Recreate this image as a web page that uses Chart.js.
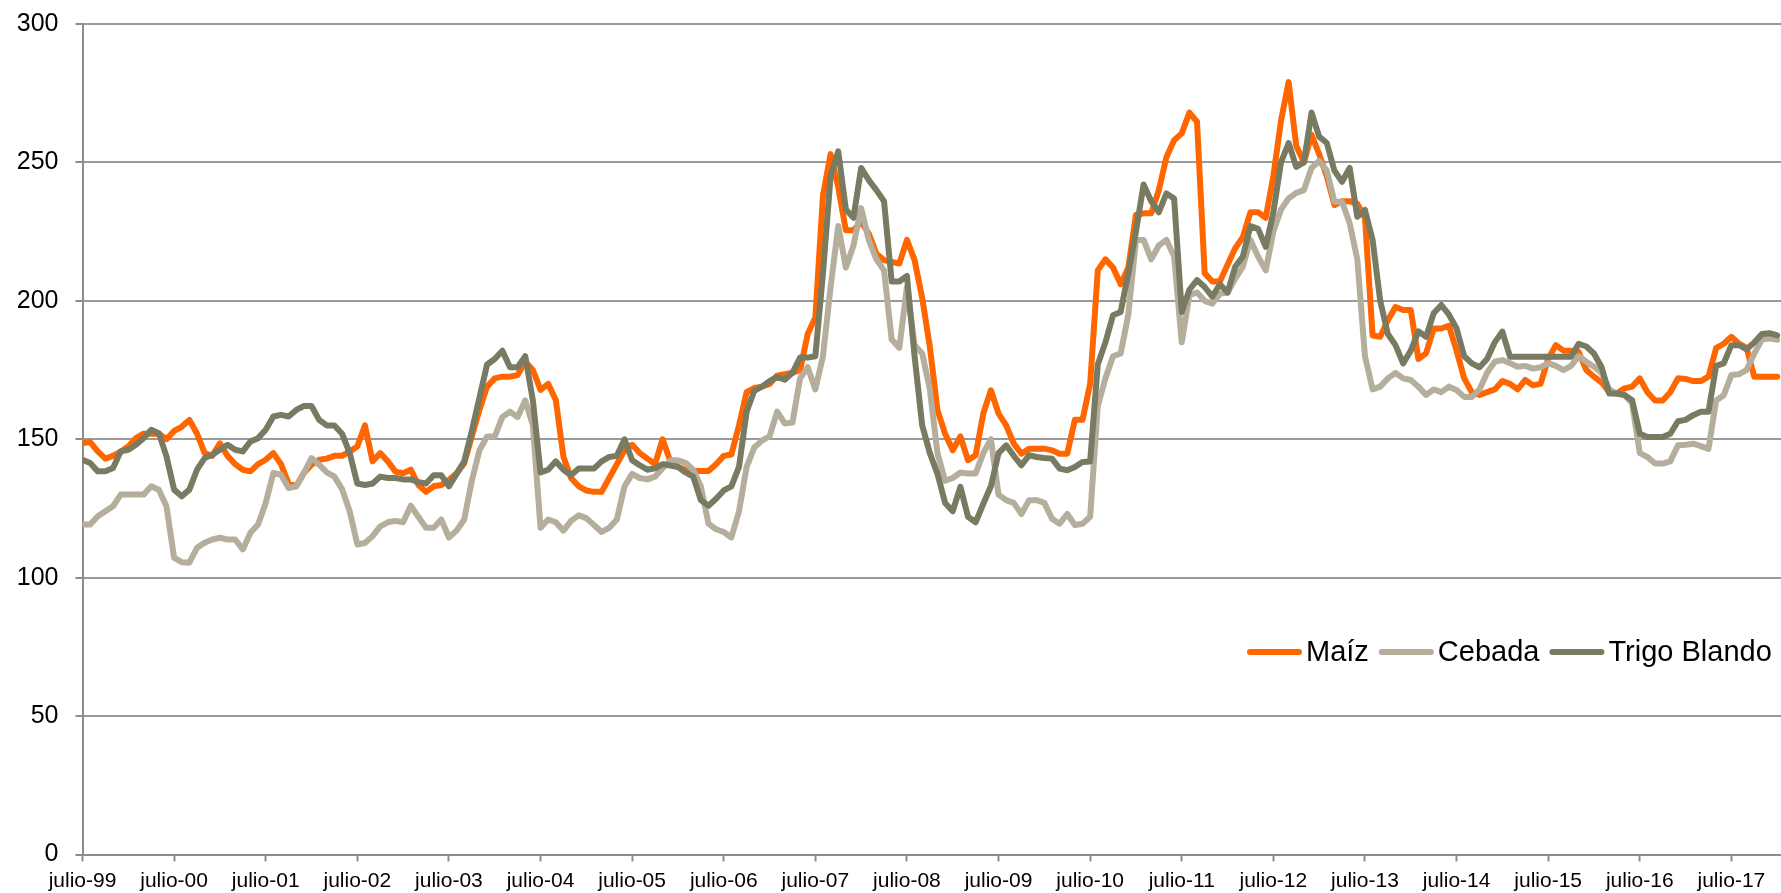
<!DOCTYPE html>
<html lang="es">
<head>
<meta charset="utf-8">
<title>Maíz, Cebada, Trigo Blando</title>
<script src="https://cdn.jsdelivr.net/npm/chart.js@4.4.1/dist/chart.umd.min.js"></script>
<style>
  html, body { margin: 0; padding: 0; background: #fff; }
  #wrap { width: 1781px; height: 893px; }
</style>
</head>
<body>
<div id="wrap"><canvas id="chart" width="1781" height="893"></canvas></div>
<script>
// one value per month, first value = julio-99
const seriesNames = ['Maíz', 'Cebada', 'Trigo Blando'];

const maiz = [
  148.6, 149, 145.6, 143, 144, 145.5, 147.4, 150.4, 152, 152, 152, 150,
  153, 154.5, 157, 152, 145, 144, 148.5, 144, 141, 139, 138.4, 141,
  142.6, 145, 141, 134, 133, 137.8, 140.8, 142.6, 143, 144, 144, 145.6,
  147.4, 155, 142, 145, 142, 138.3, 137.7, 139, 133.5, 131, 133, 133.5,
  135.3, 137.7, 141.3, 151, 160.6, 169, 172, 172.6, 172.6, 173.2, 178, 175,
  167.8, 170, 164.2, 143.7, 136, 133, 131.5, 131, 131, 136, 141, 146,
  148, 145, 143, 141, 150, 142, 140, 139, 138.5, 138.5, 138.5, 141,
  144, 144.5, 155, 167, 168.5, 169, 170, 173, 173.5, 174, 175, 188,
  194, 238, 253, 241, 225.5, 225.5, 228.5, 224.3, 217, 214.7, 214, 213.5,
  222, 214.7, 201, 183.4, 160.5, 152, 146, 151, 142.4, 144.2, 159.3, 167.7,
  159.3, 155, 148.4, 144.8, 146.6, 146.6, 146.6, 146, 144.8, 144.8, 157, 157,
  170, 211, 215, 212, 206, 212, 231, 231.6, 231.6, 240, 252, 258,
  260.5, 268, 264.7, 210, 207, 207, 213, 219, 223, 232, 232, 230,
  245, 265, 279, 256, 250, 260, 253, 245, 234.6, 236, 236, 235,
  230, 187.5, 187, 193, 197.8, 196.7, 196.7, 179, 181, 190, 190, 191,
  182, 172, 167, 166, 167, 168, 171, 170, 168, 171.4, 169.5, 170,
  179, 184, 182, 182, 181.5, 175, 172.6, 170.5, 167, 166.5, 168.4, 169,
  172, 167, 164, 164, 167, 172, 171.8, 171, 171, 172.6, 182.9, 184.5,
  187, 184.5, 183, 172.6, 172.6, 172.6, 172.6
];

const cebada = [
  119.2, 119.2, 122.2, 124, 125.8, 130, 130, 130, 130, 133, 131.8, 125.8,
  107.2, 105.6, 105.4, 110.8, 112.6, 113.8, 114.4, 113.8, 113.8, 110.2, 116.2, 119.2,
  127, 137.8, 137.2, 132.4, 133, 137.8, 143.2, 140.8, 138, 136.5, 132, 124,
  112, 112.5, 115, 118.5, 120, 120.5, 120, 126, 122, 118, 118, 121,
  114.5, 117, 121, 135, 146, 151, 151, 158, 160, 158, 164, 155,
  118, 121, 120, 117, 120.5, 122.5, 121.5, 119, 116.5, 118, 121, 133,
  137.5, 136, 135.5, 136.5, 139.5, 142.4, 142.4, 141.5, 139, 133, 119.5, 117.5,
  116.5, 114.5, 124, 140, 147, 149.5, 151, 160, 155.7, 156, 172, 176,
  168, 180, 205, 227, 212, 220, 233.5, 222, 215, 211, 186, 183,
  205, 184, 181, 168, 145, 135, 136, 138, 137.6, 137.6, 145, 150,
  130, 128, 127, 123, 128, 128, 127, 121.3, 119.5, 123, 119, 119.5,
  122, 162, 172, 180, 181, 195, 222, 222, 215, 220, 222, 216,
  185, 202, 203, 200, 199, 202.5, 203, 208, 212.3, 222, 216, 211,
  225, 233, 237, 239, 240, 248, 250.5, 247, 235.8, 235.8, 228, 215,
  180, 168, 169, 172, 174, 172, 171.4, 169, 166, 168, 167, 169,
  167.8, 165.3, 165.3, 168, 174, 178, 178.6, 177.5, 176.2, 176.5, 175.5, 176,
  177.5, 176.5, 175, 176.5, 180, 178, 176.2, 174, 168, 166.5, 166, 163,
  145, 143.6, 141.2, 141.2, 142, 147.8, 148, 148.4, 147.5, 146.5, 164, 165.9,
  173.2, 173.5, 175, 181, 186, 186.5, 185.9
];

const trigoBlando = [
  142.6, 141.4, 138.4, 138.4, 139.6, 145.6, 146.2, 148, 150.4, 153.4, 152.2, 143.8,
  131.8, 129.4, 131.8, 139, 143.2, 144.4, 146.2, 148, 146.2, 145.6, 149.2, 150.4,
  153.4, 158.2, 158.8, 158.2, 160.6, 162, 162, 157, 155, 155, 152, 145,
  134, 133.5, 134, 136.5, 136, 136, 135.5, 135.5, 134.5, 134, 137, 137,
  133, 137.5, 142, 153, 165, 177, 179, 182, 176, 176, 180, 164,
  138, 139, 142, 139, 137, 139.4, 139.4, 139.4, 142, 143.6, 144, 150,
  142.4, 140.6, 139, 139.5, 141, 140.5, 140, 138, 136.5, 128, 126, 128.5,
  131.5, 133, 140, 160, 167.5, 169, 171, 172.5, 171.5, 174, 179.5, 179.5,
  180, 210, 245, 254, 233, 230, 248, 243.6, 240, 236, 207, 207,
  209, 180, 155, 145, 137.5, 127, 124, 132.8, 122, 120, 126.7, 133,
  145, 147.8, 144, 140.6, 144.2, 143.6, 143.2, 143, 139.4, 138.8, 140, 141.8,
  142, 177, 185, 194.8, 196, 210, 225, 242, 236, 232, 238.8, 237,
  196, 204, 207.5, 205, 201.5, 206, 203, 212.3, 216, 227, 226, 219.5,
  232, 250, 257, 248.4, 250, 268, 259.3, 257, 247, 243, 248, 230.4,
  232.8, 222, 200, 188, 184, 177.4, 182, 189, 187, 195.5, 198.5, 195,
  190, 180, 177.4, 176, 179, 185, 188.9, 179.8, 179.8, 179.8, 179.8, 179.8,
  179.8, 179.8, 179.8, 179.8, 184.5, 183.5, 181, 176, 166.5, 166.5, 166, 164.1,
  152, 150.8, 150.8, 150.8, 152, 156.5, 157, 158.7, 159.9, 159.9, 176.5, 177.4,
  184, 184, 182.5, 185, 188, 188.3, 187.5
];

// one label every 12 months
const tickLabels = [
  'julio-99', 'julio-00', 'julio-01', 'julio-02', 'julio-03', 'julio-04', 'julio-05',
  'julio-06', 'julio-07', 'julio-08', 'julio-09', 'julio-10', 'julio-11', 'julio-12',
  'julio-13', 'julio-14', 'julio-15', 'julio-16', 'julio-17'
];

const yTicks = [0, 50, 100, 150, 200, 250, 300];

const colors = ['#FF6600', '#B5AE9C', '#787A62'];
const FONT = "'Liberation Sans', Arial, sans-serif";
const GRID = '#9a9a9a';
const AXIS = '#8c8c8c';

const toPoints = arr => arr.map((v, i) => ({ x: i, y: v }));

// legend drawn inside the plot, right side
const insideLegend = {
  id: 'insideLegend',
  afterDraw(chart) {
    const ctx = chart.ctx;
    const y = 652;
    let x = 1247;
    ctx.save();
    ctx.font = '29px ' + FONT;
    ctx.textBaseline = 'middle';
    ctx.textAlign = 'left';
    chart.data.datasets.forEach(ds => {
      ctx.strokeStyle = ds.borderColor;
      ctx.lineWidth = 6;
      ctx.lineCap = 'round';
      ctx.beginPath();
      ctx.moveTo(x + 3, y);
      ctx.lineTo(x + 52, y);
      ctx.stroke();
      x += 59;
      ctx.fillStyle = '#000';
      ctx.fillText(ds.label, x, y + 1);
      x += ctx.measureText(ds.label).width + 10;
    });
    ctx.restore();
  }
};

const makeSet = (label, data, color, order) => ({
  label: label,
  data: toPoints(data),
  borderColor: color,
  backgroundColor: color,
  borderWidth: 6,
  pointRadius: 0,
  tension: 0,
  fill: false,
  borderJoinStyle: 'round',
  borderCapStyle: 'round',
  order: order
});

new Chart(document.getElementById('chart'), {
  type: 'line',
  data: {
    datasets: [
      makeSet(seriesNames[0], maiz, colors[0], 3),
      makeSet(seriesNames[1], cebada, colors[1], 2),
      makeSet(seriesNames[2], trigoBlando, colors[2], 1)
    ]
  },
  options: {
    responsive: false,
    animation: false,
    layout: { padding: { top: 24, right: 0, left: 0, bottom: 0 } },
    plugins: {
      legend: { display: false },
      tooltip: { enabled: false }
    },
    scales: {
      x: {
        type: 'linear',
        min: 0,
        max: 222.5,
        afterFit: s => { s.height = 38.5; },
        grid: { drawOnChartArea: false, drawTicks: true, tickLength: 7, tickColor: AXIS, tickWidth: 2 },
        border: { display: true, color: AXIS, width: 2 },
        ticks: {
          stepSize: 12,
          includeBounds: false,
          autoSkip: false,
          maxRotation: 0,
          padding: 7,
          color: '#000',
          font: { family: FONT, size: 21 },
          callback: v => tickLabels[Math.round(v / 12)] || ''
        }
      },
      y: {
        min: yTicks[0],
        max: yTicks[yTicks.length - 1],
        afterFit: s => {
          s.width = 82.5;
          s.paddingTop = 0;
          s.paddingBottom = 0;
        },
        grid: { color: GRID, lineWidth: 2, tickLength: 7, tickColor: AXIS },
        border: { display: true, color: AXIS, width: 2 },
        afterBuildTicks: s => { s.ticks = yTicks.map(v => ({ value: v })); },
        ticks: {
          padding: 17,
          color: '#000',
          font: { family: FONT, size: 25 }
        }
      }
    }
  },
  plugins: [insideLegend]
});
</script>
</body>
</html>
